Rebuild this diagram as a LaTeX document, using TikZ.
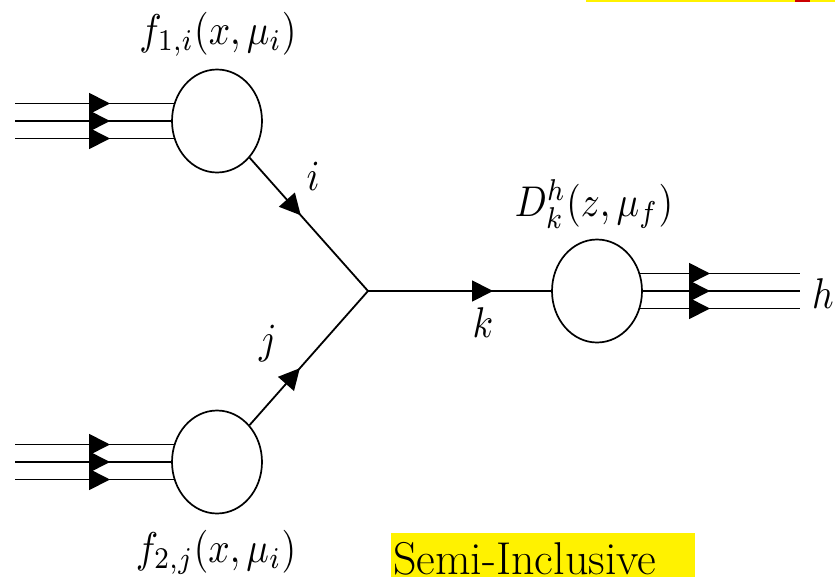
\documentclass[tikz,border=0pt]{standalone}
\usepackage{fontspec}
\usepackage{tikz}
\usetikzlibrary{shapes.geometric,arrows.meta,decorations.markings,backgrounds}

\newcommand{\bigmath}[1]{\scalebox{3.75}[4.3]{$#1$}}

\begin{document}
\begin{tikzpicture}[
        x=1pt, y=-1pt,
        blob/.style={ellipse, draw=black, line width=1.7pt, fill=white, minimum width=90pt, minimum height=103pt, inner sep=0pt},
        leg/.style={line width=1.8pt},
        lbl/.style={inner sep=0pt, anchor=base},
        midarrow/.style={postaction={decorate}, decoration={markings, mark=at position #1 with {\arrow{Triangle[length=21pt,width=21pt]}}}}
    ]
        \useasboundingbox (0,0) rectangle (835,576);

        % Highlights
        \fill[yellow] (586,-2) rectangle (835,2);
        \fill[red!80!black] (795,-1) rectangle (810,1.5);
        \fill[yellow] (391,533) rectangle (695,580);

        % Blobs
        \node[blob] (fa) at (217,121) {};
        \node[blob] (fb) at (217,462) {};
        \node[blob] (dh) at (597,291) {};
        \coordinate (vtx) at (368,291);

        % Hadron lines
        \coordinate (in1) at (15,121);
        \coordinate (in2) at (15,462);
        \coordinate (out) at (800,291);
        \begin{scope}[on background layer]
            \foreach \dy in {-17.5,0,17.5} {
                \draw[leg, midarrow=95pt] ([yshift=\dy pt]in1) -- ([yshift=\dy pt]fa.center);
                \draw[leg, midarrow=95pt] ([yshift=\dy pt]in2) -- ([yshift=\dy pt]fb.center);
                \draw[leg, midarrow=113pt] ([yshift=\dy pt]dh.center) -- ([yshift=\dy pt]out);
            }
        \end{scope}

        % Partons
        \draw[leg, midarrow=77pt] (fa) -- (vtx);
        \draw[leg, midarrow=76pt] (fb) -- (vtx);
        \draw[leg, midarrow=125pt] (vtx) -- (dh);

        % Labels
        \node[lbl] (fa_label) at (218,44) {\bigmath{f_{1,i}(x,\mu_i)}};
        \node[lbl] (fb_label) at (216,562) {\bigmath{f_{2,j}(x,\mu_i)}};
        \node[lbl] (dh_label) at (594,216) {\bigmath{D^h_k(z,\mu_f)}};
        \node[lbl, anchor=base west] (h_label) at (812,308) {\bigmath{h}};
        \node[lbl] (i_label) at (313,190) {\bigmath{i}};
        \node[lbl] (j_label) at (268,353) {\bigmath{j}};
        \node[lbl] (k_label) at (483,337) {\bigmath{k}};
        \node[inner sep=0pt, anchor=base west] (semi) at (393,574) {\rmfamily\fontsize{46}{52}\selectfont Semi-Inclusive};

    \end{tikzpicture}
\end{document}
